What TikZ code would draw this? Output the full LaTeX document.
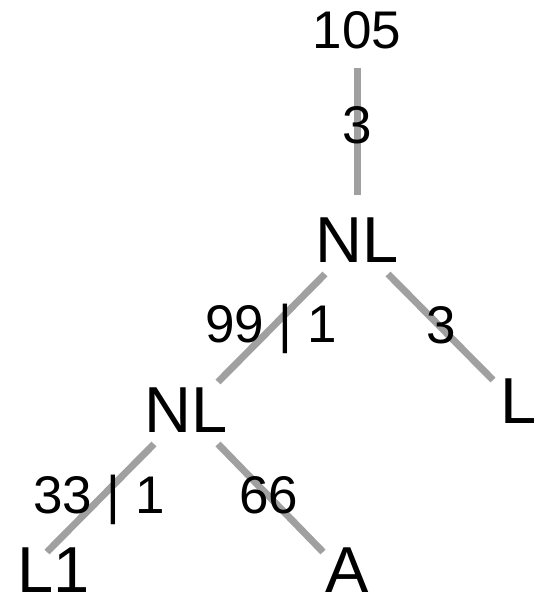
\documentclass[tikz,border=0pt]{standalone}
\usepackage{fontspec}
\setmainfont{Liberation Sans}
\usetikzlibrary{backgrounds}
\definecolor{edgegray}{RGB}{160,160,160}
\begin{document}
\begin{tikzpicture}[x=1pt, y=-1pt,
    lab/.style={anchor=base, inner sep=0pt, font=\fontsize{65}{70}\selectfont},
    num/.style={anchor=base, inner sep=0pt, font=\fontsize{53}{58}\selectfont},
    edge/.style={draw=edgegray, line width=7pt}]
\useasboundingbox (0,0) rectangle (537,597);
% tree nodes
\node[num] (root) at (357,48) {105};
\node[lab] (nlA) at (357,262) {NL};
\node[lab] (nlB) at (186,432) {NL};
\node[lab] (leafL) at (519,423) {L};
\node[lab] (leafLone) at (54,592) {L1};
\node[lab] (leafA) at (347,592) {A};
% edge labels
\node[num] (wRoot) at (357,143) {3};
\node[num] (wLeft) at (271,342) {99 | 1};
\node[num] (wRight) at (441,343) {3};
\node[num] (wLone) at (99,513) {33 | 1};
\node[num] (wA) at (269,513) {66};
\begin{scope}[on background layer]
\draw[edge] ([shift={(0,20)}]root.base) -- ([shift={(0,-67)}]nlA.base);
\draw[edge] ([shift={(31,12)}]nlA.base) -- ([shift={(-26,-43)}]leafL.base);
\draw[edge] ([shift={(-32,12)}]nlA.base) -- ([shift={(32,-50)}]nlB.base);
\draw[edge] ([shift={(-32,12)}]nlB.base) -- ([shift={(-7,-40)}]leafLone.base);
\draw[edge] ([shift={(32,12)}]nlB.base) -- ([shift={(-24,-40)}]leafA.base);
\end{scope}
\end{tikzpicture}
\end{document}
